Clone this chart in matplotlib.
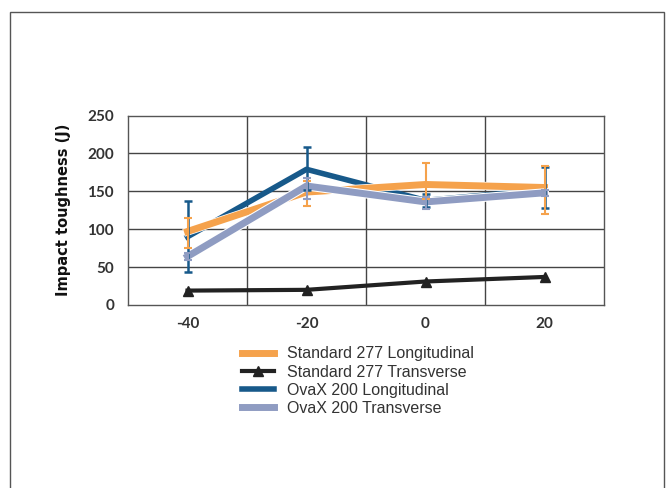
import matplotlib
matplotlib.use("Agg")
import matplotlib.pyplot as plt
from matplotlib.patches import Rectangle
import matplotlib.patheffects as pe

plt.rcParams["axes.unicode_minus"] = False

# temperatures (deg C)
temps = [-40, -20, 0, 20]

# Standard 277 Longitudinal
std_long = [97, 149, 159, 155]
std_long_lo = [75, 131, 140, 120]
std_long_hi = [115, 163, 187, 184]

# Standard 277 Transverse
std_trans = [19, 20, 31, 37]

# OvaX 200 Longitudinal
ova_long = [90, 179, 138, 152]
ova_long_lo = [44, 152, 129, 128]
ova_long_hi = [137, 208, 147, 182]

# OvaX 200 Transverse
ova_trans = [64, 157, 136, 148]
ova_trans_lo = [60, 140, 126, 144]
ova_trans_hi = [68, 168, 142, 152]

labels = ["Standard 277 Longitudinal", "Standard 277 Transverse",
          "OvaX 200 Longitudinal", "OvaX 200 Transverse"]

c_orange = "#F5A24C"
c_black = "#222222"
c_blue = "#17598A"
c_grey = "#8F9CC2"


def yerr(vals, lo, hi):
    return [[v - l for v, l in zip(vals, lo)], [h - v for v, h in zip(vals, hi)]]


fig = plt.figure(figsize=(6.67, 4.88), dpi=100)
fig.patches.append(Rectangle((10 / 667, -0.05), 654 / 667, 1 - 12 / 488 + 0.05,
                             transform=fig.transFigure, fill=False,
                             edgecolor="#555555", linewidth=1.0))

ax = fig.add_axes([128 / 667, 1 - 305 / 488, 476 / 667, 189.5 / 488])

ax.plot(temps, ova_long, color=c_blue, lw=4, zorder=3, label=labels[2])
ax.plot(temps, std_long, color=c_orange, lw=5, zorder=4, label=labels[0],
        path_effects=[pe.Stroke(linewidth=6, foreground="white"), pe.Normal()])
ax.plot(temps, ova_trans, color=c_grey, lw=5, zorder=5, label=labels[3],
        path_effects=[pe.Stroke(linewidth=6.5, foreground="white"), pe.Normal()])
ax.plot(temps, std_trans, color=c_black, lw=3, marker="^", markersize=7,
        zorder=6, label=labels[1])

ax.errorbar(temps, ova_long, yerr=yerr(ova_long, ova_long_lo, ova_long_hi),
            fmt="none", ecolor=c_blue, elinewidth=1.8, capsize=3, capthick=1.8, zorder=7)
ax.errorbar(temps, std_long, yerr=yerr(std_long, std_long_lo, std_long_hi),
            fmt="none", ecolor=c_orange, elinewidth=1.5, capsize=3, capthick=1.5, zorder=7)
ax.errorbar(temps, ova_trans, yerr=yerr(ova_trans, ova_trans_lo, ova_trans_hi),
            fmt="none", ecolor=c_grey, elinewidth=1.5, capsize=3, capthick=1.5, zorder=7)

ax.set_xlim(-50, 30)
ax.set_ylim(0, 250)
ax.set_xticks(temps)
ax.set_yticks([0, 50, 100, 150, 200, 250])
ax.grid(False)
for y in [50, 100, 150, 200]:
    ax.axhline(y, color="#444444", lw=1.0, zorder=1)
for x in [-30, -10, 10]:
    ax.axvline(x, color="#444444", lw=1.0, zorder=1)
for s in ax.spines.values():
    s.set_color("#555555")
    s.set_linewidth(1.0)

ax.tick_params(axis="both", which="both", length=0)
ax.tick_params(axis="x", pad=9)
ax.tick_params(axis="y", pad=10)
for t in ax.get_xticklabels() + ax.get_yticklabels():
    t.set_fontfamily(["Lato", "DejaVu Sans"])
    t.set_fontweight("bold")
    t.set_fontsize(11)
    t.set_color("#333333")

ax.set_ylabel("Impact toughness (J)", fontsize=10.5, fontweight="bold",
              family=["DejaVu Sans"], color="#111111", labelpad=12)

h, l = ax.get_legend_handles_labels()
order = [l.index(x) for x in labels]
leg = fig.legend([h[i] for i in order], [l[i] for i in order],
                 loc="upper left", bbox_to_anchor=(228 / 667, 1 - 332 / 488),
                 frameon=False, handlelength=2.0,
                 handletextpad=0.8, labelspacing=0.2, numpoints=1,
                 prop={"family": ["Liberation Sans", "DejaVu Sans"], "size": 11.5})
for t in leg.get_texts():
    t.set_color("#333333")

fig.savefig("out.png", dpi=100)
